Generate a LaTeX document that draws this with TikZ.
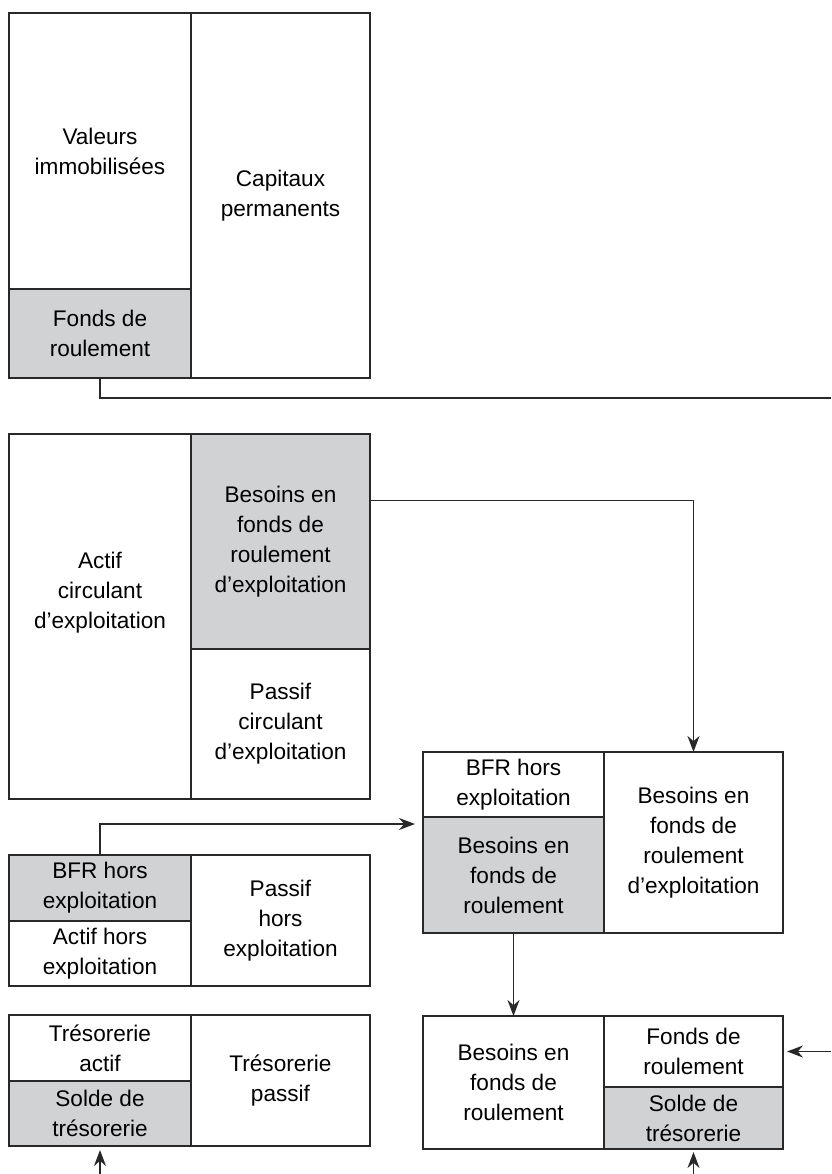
\documentclass[tikz,border=0pt]{standalone}
\usepackage{fontspec}
\setmainfont{Liberation Sans}
\usetikzlibrary{positioning,arrows.meta}
\definecolor{fondgris}{RGB}{209,210,212}
\definecolor{trait}{RGB}{40,40,40}

\begin{document}
\begin{tikzpicture}[
    x=0.5pt, y=-0.5pt,
    cell/.style={draw=trait, line width=1pt, anchor=north west, align=center, inner sep=0pt, outer sep=0pt, font=\fontsize{11.3}{15}\selectfont},
    gcell/.style={cell, fill=fondgris},
    lbl/.style={align=center, inner sep=0pt, font=\fontsize{11.3}{15}\selectfont},
    arrow/.style={-{Stealth[length=8pt,width=6pt]}, draw=trait, line width=0.9pt},
    link/.style={draw=trait, line width=0.9pt}
]
\useasboundingbox (0,0) rectangle (831,1174);

% Bilan fonctionnel : haut de bilan
\node[cell, minimum width=91pt, minimum height=138pt] (valim) at (9,13) {Valeurs\\immobilisées};
\node[gcell, minimum width=91pt, minimum height=44.5pt] (fr) at (valim.south west) {Fonds de\\roulement};
\node[cell, minimum width=89.5pt, minimum height=182.5pt] (capperm) at (valim.north east) {Capitaux\\permanents};

% Cycle d'exploitation
\node[cell, minimum width=91pt, minimum height=182.5pt] (actcirc) at (9,434) {};
\node[lbl] (actcirctxt) at ([yshift=12pt]actcirc.center) {Actif\\circulant\\d’exploitation};
\node[gcell, minimum width=89.5pt, minimum height=107.5pt] (bfre) at (actcirc.north east) {Besoins en\\fonds de\\roulement\\d’exploitation};
\node[cell, minimum width=89.5pt, minimum height=75pt] (passcirc) at (bfre.south west) {Passif\\circulant\\d’exploitation};

% Hors exploitation
\node[gcell, minimum width=91pt, minimum height=33pt] (bfrhe) at (9,855) {BFR hors\\exploitation};
\node[cell, minimum width=91pt, minimum height=32.5pt] (acthe) at (bfrhe.south west) {Actif hors\\exploitation};
\node[cell, minimum width=89.5pt, minimum height=65.5pt] (passhe) at (bfrhe.north east) {Passif\\hors\\exploitation};

% Tresorerie
\node[cell, minimum width=91pt, minimum height=33pt] (tresact) at (9,1015) {Trésorerie\\actif};
\node[gcell, minimum width=91pt, minimum height=32.5pt] (solde) at (tresact.south west) {Solde de\\trésorerie};
\node[cell, minimum width=89.5pt, minimum height=65.5pt] (trespass) at (tresact.north east) {Trésorerie\\passif};

% Besoins en fonds de roulement
\node[cell, minimum width=90.5pt, minimum height=32.5pt] (bfrhors) at (423,752) {BFR hors\\exploitation};
\node[gcell, minimum width=90.5pt, minimum height=58pt] (bfr) at (bfrhors.south west) {Besoins en\\fonds de\\roulement};
\node[cell, minimum width=89.5pt, minimum height=90.5pt] (bfrexp) at (bfrhors.north east) {Besoins en\\fonds de\\roulement\\d’exploitation};

% Equilibre final
\node[cell, minimum width=90.5pt, minimum height=66.5pt] (bfrfin) at (423,1016) {Besoins en\\fonds de\\roulement};
\node[cell, minimum width=89.5pt, minimum height=35.5pt] (frfin) at (bfrfin.north east) {Fonds de\\roulement};
\node[gcell, minimum width=89.5pt, minimum height=31pt] (soldefin) at (frfin.south west) {Solde de\\trésorerie};

% Bouts libres
\coordinate (bordhaut) at (831,398);
\path (frfin.east) ++(48,0) coordinate (bordbas);
\path (soldefin.south) ++(0,25) coordinate (piedfin);
\path (solde.south) ++(0,28) coordinate (piedtres);

% Fleches
\draw[link] (fr.south) |- (bordhaut);
\draw[arrow] ([yshift=20.5pt]bfre.east) -| (bfrexp.north);
\draw[arrow, shorten >=4pt] (bfrhe.north) |- ([yshift=-3.5pt]bfr.north west);
\draw[arrow] (bfr.south) -- (bfrfin.north);
\draw[arrow, shorten >=2pt] (bordbas) -- (frfin.east);
\draw[arrow, shorten >=1.5pt] (piedfin) -- (soldefin.south);
\draw[arrow, shorten >=2pt] (piedtres) -- (solde.south);
\end{tikzpicture}
\end{document}
